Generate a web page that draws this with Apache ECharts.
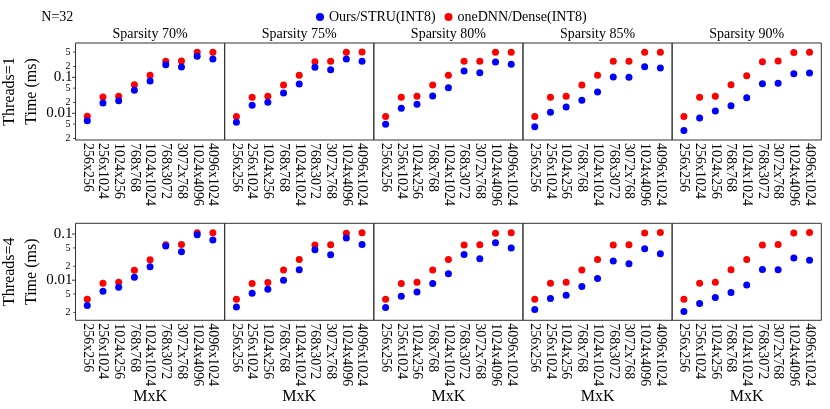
<!DOCTYPE html>
<html><head><meta charset="utf-8">
<script src="https://cdn.jsdelivr.net/npm/echarts@6/dist/echarts.min.js"></script>
<style>html,body{margin:0;padding:0;background:#fff}#c{width:830px;height:409px}</style>
</head><body><div id="c"></div>
<script>
const categories = ['256x256','256x1024','1024x256','768x768','1024x1024','768x3072','3072x768','1024x4096','4096x1024'];
const sparsityTitles = ['Sparsity 70%','Sparsity 75%','Sparsity 80%','Sparsity 85%','Sparsity 90%'];
const threadLabels = ['Threads=1','Threads=4'];
const yAxisTitle = 'Time (ms)';
const xAxisTitle = 'MxK';
const figTitle = 'N=32';
const seriesNames = ['Ours/STRU(INT8)','oneDNN/Dense(INT8)'];

// Threads=1
const dense_t1_s70 = [0.0083, 0.0284, 0.0297, 0.0623, 0.114, 0.278, 0.284, 0.495, 0.495];
const ours_t1_s70  = [0.0062, 0.0193, 0.0224, 0.0436, 0.0789, 0.224, 0.193, 0.383, 0.322];
const dense_t1_s75 = [0.0081, 0.0278, 0.0297, 0.0611, 0.114, 0.271, 0.278, 0.495, 0.505];
const ours_t1_s75  = [0.0056, 0.0167, 0.0202, 0.0366, 0.0652, 0.190, 0.163, 0.322, 0.278];
const dense_t1_s80 = [0.0081, 0.0278, 0.0297, 0.0611, 0.114, 0.278, 0.278, 0.495, 0.495];
const ours_t1_s80  = [0.00495, 0.0138, 0.0178, 0.0303, 0.0514, 0.150, 0.134, 0.266, 0.230];
const dense_t1_s85 = [0.0081, 0.0278, 0.0297, 0.0611, 0.114, 0.278, 0.278, 0.495, 0.495];
const ours_t1_s85  = [0.0042, 0.0107, 0.0150, 0.0230, 0.0391, 0.102, 0.100, 0.197, 0.181];
const dense_t1_s90 = [0.0081, 0.0278, 0.0297, 0.0623, 0.111, 0.271, 0.284, 0.487, 0.495];
const ours_t1_s90  = [0.0033, 0.0074, 0.0116, 0.0163, 0.0271, 0.0664, 0.0681, 0.126, 0.132];
// Threads=4
const dense_t4_s70 = [0.00386, 0.0086, 0.00905, 0.0165, 0.0276, 0.0585, 0.0597, 0.107, 0.107];
const ours_t4_s70  = [0.00282, 0.00577, 0.00705, 0.0116, 0.0195, 0.0548, 0.0412, 0.0966, 0.0741];
const dense_t4_s75 = [0.00386, 0.00845, 0.0089, 0.0167, 0.0281, 0.0577, 0.0585, 0.104, 0.107];
const ours_t4_s75  = [0.00263, 0.00522, 0.00637, 0.0100, 0.01675, 0.0456, 0.0355, 0.0819, 0.0597];
const dense_t4_s80 = [0.00386, 0.00845, 0.00905, 0.0167, 0.0281, 0.0577, 0.0585, 0.104, 0.107];
const ours_t4_s80  = [0.00255, 0.00449, 0.00557, 0.00848, 0.0138, 0.0362, 0.0290, 0.0647, 0.0496];
const dense_t4_s85 = [0.00386, 0.0086, 0.00905, 0.0167, 0.0281, 0.0577, 0.0585, 0.105, 0.108];
const ours_t4_s85  = [0.00231, 0.0040, 0.00472, 0.0073, 0.0109, 0.0259, 0.0226, 0.0479, 0.0373];
const dense_t4_s90 = [0.00386, 0.0086, 0.00905, 0.0169, 0.0281, 0.0577, 0.0597, 0.105, 0.108];
const ours_t4_s90  = [0.00209, 0.00311, 0.00421, 0.0054, 0.0079, 0.0171, 0.0168, 0.0301, 0.0272];

// y tick labels
const yMajorTicks = [0.01, 0.1];
const yMajorLabels = ['0.01', '0.1'];
const yMinorTicksTop = [0.002, 0.005, 0.02, 0.05, 0.2, 0.5];
const yMinorTicksBottom = [0.002, 0.005, 0.02, 0.05];
const yMinorLabel = v => String(Math.round(v / Math.pow(10, Math.floor(Math.log10(v) + 1e-9))));

const oursRows = [[ours_t1_s70, ours_t1_s75, ours_t1_s80, ours_t1_s85, ours_t1_s90],
                  [ours_t4_s70, ours_t4_s75, ours_t4_s80, ours_t4_s85, ours_t4_s90]];
const denseRows = [[dense_t1_s70, dense_t1_s75, dense_t1_s80, dense_t1_s85, dense_t1_s90],
                   [dense_t4_s70, dense_t4_s75, dense_t4_s80, dense_t4_s85, dense_t4_s90]];

const FONT = "'Liberation Serif', 'DejaVu Serif', serif";
const L0 = 75.5, PW = 149.16, PH = 97;
const rowTop = [43, 223.3];
const yRange = [[0.00181, 0.898], [0.00135, 0.171]];

const chart = echarts.init(document.getElementById('c'), null, {renderer: 'canvas'});
const grid = [], xAxis = [], yAxis = [], series = [];
for (let r = 0; r < 2; r++) {
  for (let c = 0; c < 5; c++) {
    const idx = r * 5 + c;
    grid.push({left: L0 + c * PW, top: rowTop[r], width: PW, height: PH, show: true,
      borderColor: '#333', borderWidth: 1, backgroundColor: 'transparent', containLabel: false});
    xAxis.push({type: 'value', gridIndex: idx, min: -0.75, max: 8.75,
      axisLine: {show: false}, axisTick: {show: false}, splitLine: {show: false},
      axisLabel: {customValues: categories.map((_, i) => i), formatter: v => categories[Math.round(v)] || '',
        rotate: -90, fontFamily: FONT, fontSize: 14, lineHeight: 14, color: '#000', margin: 3,
        showMinLabel: true, showMaxLabel: true, hideOverlap: false}});
    yAxis.push({type: 'log', gridIndex: idx, min: yRange[r][0], max: yRange[r][1],
      axisLine: {show: false}, axisTick: {show: false}, axisLabel: {show: false}, splitLine: {show: false}});
    series.push({type: 'scatter', name: seriesNames[1], xAxisIndex: idx, yAxisIndex: idx,
      data: denseRows[r][c].map((v, i) => [i, v]), symbolSize: 7, itemStyle: {color: '#ff0000', opacity: 1}});
    series.push({type: 'scatter', name: seriesNames[0], xAxisIndex: idx, yAxisIndex: idx,
      data: oursRows[r][c].map((v, i) => [i, v]), symbolSize: 7, itemStyle: {color: '#0000ff', opacity: 1}});
  }
}

chart.setOption({
  animation: false,
  backgroundColor: '#fff',
  legend: {data: seriesNames, icon: 'circle', itemWidth: 8, itemHeight: 8, itemGap: 9,
    left: 316, top: 10, padding: 0, textStyle: {fontFamily: FONT, fontSize: 14, color: '#000'}},
  grid, xAxis, yAxis, series
});

const g = [];
g.push({type: 'text', x: 41.3, y: 17.3, style: {text: figTitle, font: '14px ' + FONT, fill: '#000', align: 'left', verticalAlign: 'middle'}});
for (let c = 0; c < 5; c++) {
  const cx = L0 + c * PW + PW / 2;
  g.push({type: 'text', x: cx, y: 34.3, style: {text: sparsityTitles[c], font: '14px ' + FONT, fill: '#000', align: 'center', verticalAlign: 'middle'}});
  g.push({type: 'text', x: cx, y: 397, style: {text: xAxisTitle, font: '16px ' + FONT, fill: '#000', align: 'center', verticalAlign: 'middle'}});
}
for (let r = 0; r < 2; r++) {
  const cy = rowTop[r] + PH / 2;
  g.push({type: 'text', x: 9.5, y: cy, rotation: Math.PI / 2, style: {text: threadLabels[r], font: '16px ' + FONT, fill: '#000', align: 'center', verticalAlign: 'middle'}});
  g.push({type: 'text', x: 31.5, y: cy, rotation: Math.PI / 2, style: {text: yAxisTitle, font: '16px ' + FONT, fill: '#000', align: 'center', verticalAlign: 'middle'}});
  const yi = r * 5;
  yMajorTicks.forEach((v, k) => {
    const py = chart.convertToPixel({yAxisIndex: yi}, v);
    g.push({type: 'text', x: 72.5, y: py, style: {text: yMajorLabels[k], font: '15px ' + FONT, fill: '#000', align: 'right', verticalAlign: 'middle'}});
    g.push({type: 'line', shape: {x1: L0 - 3.5, y1: py, x2: L0, y2: py}, style: {stroke: '#333', lineWidth: 1}});
  });
  const minors = r === 0 ? yMinorTicksTop : yMinorTicksBottom;
  minors.forEach(v => {
    const py = chart.convertToPixel({yAxisIndex: yi}, v);
    g.push({type: 'text', x: 70.5, y: py, style: {text: yMinorLabel(v), font: '10px ' + FONT, fill: '#000', align: 'right', verticalAlign: 'middle'}});
    g.push({type: 'line', shape: {x1: L0 - 2.5, y1: py, x2: L0, y2: py}, style: {stroke: '#333', lineWidth: 0.8}});
  });
}
chart.setOption({graphic: g});
</script></body></html>
